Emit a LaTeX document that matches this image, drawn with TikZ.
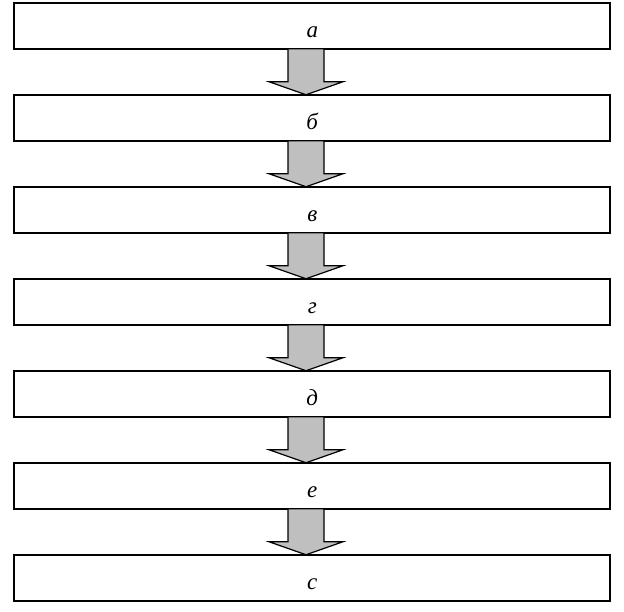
\documentclass[tikz,border=0pt]{standalone}
\usepackage{fontspec}
\setmainfont{Liberation Serif}
\usetikzlibrary{positioning}

\begin{document}
\begin{tikzpicture}[x=1pt, y=1pt, node distance=46pt,
		stage/.style={draw, rectangle, line width=1.8pt, minimum width=596pt, minimum height=46pt, inner sep=0pt, outer sep=0pt, text height=23pt, text depth=0pt, font=\fontsize{23}{23}\selectfont\itshape},
		flow/.style={draw, line width=1.2pt, fill=gray!50, line join=miter}]
				\useasboundingbox (0,0) rectangle (624,611);
				\node[stage] (A) at (312.25, 585.25) {а};
				\node[stage, below=of A] (B) {б};
				\node[stage, below=of B] (C) {в};
				\node[stage, below=of C] (D) {г};
				\node[stage, below=of D] (E) {д};
				\node[stage, below=of E] (F) {е};
				\node[stage, below=of F] (G) {с};
				\foreach \u/\v in {A/B, B/C, C/D, D/E, E/F, F/G}
					\draw[flow] ([xshift=-24.25pt]\u.south) -- ([xshift=-24.25pt, yshift=13pt]\v.north) -- ([xshift=-43.25pt, yshift=13pt]\v.north) -- ([xshift=-6.25pt]\v.north) -- ([xshift=30.75pt, yshift=13pt]\v.north) -- ([xshift=11.75pt, yshift=13pt]\v.north) -- ([xshift=11.75pt]\u.south) -- cycle;
			\end{tikzpicture}
\end{document}
